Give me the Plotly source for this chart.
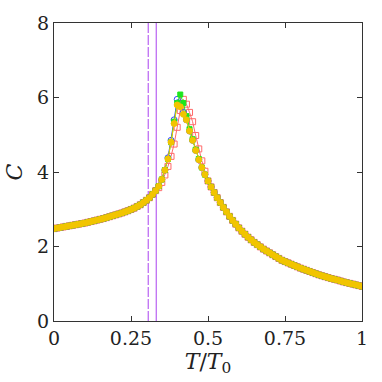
import plotly.graph_objects as go

# Temperature grid pieces (T/T0)
T_left = [0.00, 0.01, 0.02, 0.03, 0.04, 0.05, 0.06, 0.07, 0.08, 0.09,
          0.10, 0.11, 0.12, 0.13, 0.14, 0.15, 0.16, 0.17, 0.18, 0.19,
          0.20, 0.21, 0.22, 0.23, 0.24, 0.25, 0.26, 0.27, 0.28, 0.29,
          0.30, 0.31, 0.32, 0.33]
C_left = [2.48, 2.495, 2.51, 2.525, 2.54, 2.555, 2.57, 2.585, 2.60, 2.615,
          2.63, 2.65, 2.67, 2.69, 2.71, 2.73, 2.75, 2.775, 2.80, 2.825,
          2.85, 2.875, 2.90, 2.93, 2.96, 2.995, 3.03, 3.075, 3.12, 3.18,
          3.24, 3.31, 3.40, 3.50]

T_peak = [0.34, 0.35, 0.36, 0.37, 0.38, 0.39, 0.40, 0.41, 0.42, 0.43,
          0.44, 0.45, 0.46, 0.47, 0.48, 0.49]
C_peak_red = [3.58, 3.72, 3.92, 4.15, 4.42, 4.75, 5.20, 5.65, 5.95, 5.82,
              5.60, 5.35, 4.98, 4.62, 4.30, 4.02]
C_peak_blue = [3.62, 3.80, 4.05, 4.38, 4.85, 5.40, 5.95, 5.85, 5.60, 5.40,
               5.10, 4.85, 4.58, 4.33, 4.12, 3.93]
C_peak_green = [3.62, 3.80, 4.05, 4.35, 4.80, 5.35, 5.85, 6.08, 5.85, 5.50,
                5.15, 4.88, 4.60, 4.35, 4.12, 3.93]
C_peak_yellow = [3.62, 3.80, 4.05, 4.35, 4.80, 5.30, 5.80, 5.75, 5.55, 5.40,
                 5.10, 4.85, 4.58, 4.33, 4.12, 3.93]

T_right = [0.50, 0.51, 0.52, 0.53, 0.54, 0.55, 0.56, 0.57, 0.58, 0.59,
           0.60, 0.61, 0.62, 0.63, 0.64, 0.65, 0.66, 0.67, 0.68, 0.69,
           0.70, 0.71, 0.72, 0.73, 0.74, 0.75, 0.76, 0.77, 0.78, 0.79,
           0.80, 0.81, 0.82, 0.83, 0.84, 0.85, 0.86, 0.87, 0.88, 0.89,
           0.90, 0.91, 0.92, 0.93, 0.94, 0.95, 0.96, 0.97, 0.98, 0.99, 1.00]
C_right = [3.76, 3.60, 3.45, 3.31, 3.18, 3.05, 2.93, 2.81, 2.70, 2.60,
           2.50, 2.41, 2.33, 2.25, 2.18, 2.11, 2.05, 1.99, 1.93, 1.88,
           1.83, 1.78, 1.73, 1.68, 1.63, 1.595, 1.56, 1.525, 1.49, 1.455,
           1.42, 1.39, 1.36, 1.33, 1.30, 1.27, 1.24, 1.215, 1.19, 1.165,
           1.14, 1.12, 1.10, 1.075, 1.05, 1.03, 1.01, 0.99, 0.97, 0.95, 0.93]

# Vertical reference lines
T_dashed = 0.306
T_solid = 0.332
C_range = [0, 8]

x_ticks = [0, 0.25, 0.5, 0.75, 1]
x_tick_labels = ["0", "0.25", "0.5", "0.75", "1"]
y_ticks = [0, 2, 4, 6, 8]
y_tick_labels = ["0", "2", "4", "6", "8"]

T_all = T_left + T_peak + T_right

fig = go.Figure()

vcol = "#b962f2"
fig.add_trace(go.Scatter(x=[T_dashed, T_dashed], y=C_range, mode="lines",
                         line=dict(color=vcol, width=1.2, dash="10px,2px"),
                         showlegend=False))
fig.add_trace(go.Scatter(x=[T_solid, T_solid], y=C_range, mode="lines",
                         line=dict(color=vcol, width=1.2),
                         showlegend=False))

series = [
    (C_peak_red, "#ff6a6a", "square-open", 6),
    (C_peak_blue, "#3348ff", "circle-open", 6),
    (C_peak_green, "#1ee61e", "square", 5),
    (C_peak_yellow, "#f2c400", "circle", 6),
]
for peak, col, sym, sz in series:
    fig.add_trace(go.Scatter(
        x=T_all, y=C_left + peak + C_right, mode="lines+markers",
        line=dict(color=col, width=1),
        marker=dict(symbol=sym, size=sz, color=col, line=dict(color=col, width=1)),
        showlegend=False))

font = "DejaVu Serif"
fig.update_layout(
    width=382, height=382,
    margin=dict(l=54, r=20, t=16, b=61),
    paper_bgcolor="white", plot_bgcolor="white",
    font_family=font, font_size=19, font_color="#222",
)
fig.update_xaxes(range=[0, 1], tickvals=x_ticks, ticktext=x_tick_labels,
                 ticks="inside", ticklen=5, tickcolor="#333", mirror="ticks",
                 showline=True, linecolor="#333", linewidth=1, showgrid=False,
                 zeroline=False, tickfont_family=font, tickfont_size=19,
                 title_text="<i>T</i>/<i>T</i><sub>0</sub>", title_standoff=0,
                 title_font_family=font, title_font_size=22)
fig.update_yaxes(range=C_range, tickvals=y_ticks, ticktext=y_tick_labels,
                 ticks="inside", ticklen=5, tickcolor="#333", mirror="ticks",
                 showline=True, linecolor="#333", linewidth=1, showgrid=False,
                 zeroline=False, tickfont_family=font, tickfont_size=19,
                 title_text="<i>C</i>", title_standoff=8,
                 title_font_family=font, title_font_size=22)

fig.write_html("out.html")
